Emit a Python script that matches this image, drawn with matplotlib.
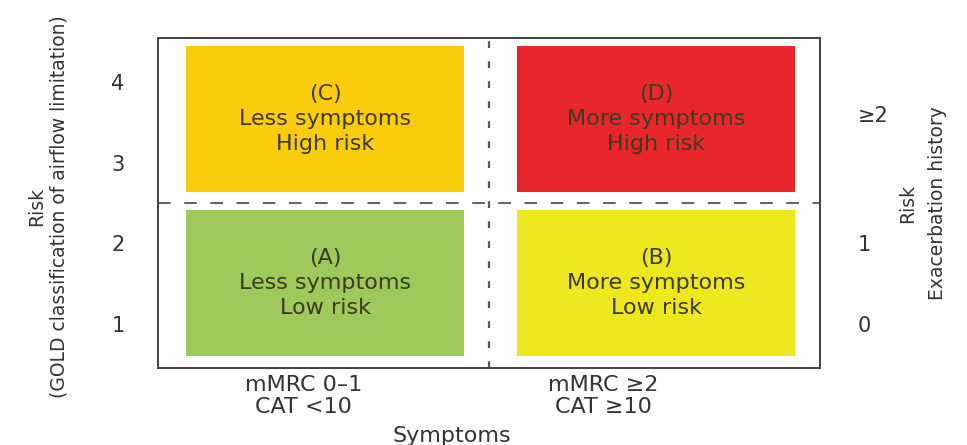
import matplotlib.pyplot as plt
from matplotlib.patches import Rectangle

# quadrants: label, x column, y row, colour
groups = ['(A)\nLess symptoms\nLow risk', '(B)\nMore symptoms\nLow risk',
          '(C)\nLess symptoms\nHigh risk', '(D)\nMore symptoms\nHigh risk']
group_x = [0, 1, 0, 1]
group_y = [0, 0, 1, 1]
group_colors = ['#9dca5a', '#efe71e', '#fbcc0c', '#e8262b']

gold_ticks = [1, 2, 3, 4]
exac_pos = [1, 2, 3.6]
exac_labels = ['0', '1', '\u22652']
sym_pos = [0.44, 1.345]
sym_labels = ['mMRC 0\u20131\nCAT <10', 'mMRC \u22652\nCAT \u226510']

plt.rcParams['font.family'] = ['DejaVu Sans']
txt = '#3b3a22'
lab_c = '#333333'
grey = '#555555'

fig = plt.figure(figsize=(9.67, 4.45), dpi=100)
ax = fig.add_axes([0.1634, 0.173, 0.6846, 0.7416])
ax.set_xlim(0, 2)
ax.set_ylim(0.45, 4.55)

for lab, gx, gy, c in zip(groups, group_x, group_y, group_colors):
    x0 = gx + 0.085
    y0 = 0.6 + gy * 2.04
    ax.add_patch(Rectangle((x0, y0), 0.84, 1.81, color=c, lw=0))
    ax.text(x0 + 0.42, y0 + 0.905, lab, ha='center', va='center',
            fontsize=16, color=txt, linespacing=1.3)

ax.axvline(1, color=grey, ls=(0, (3, 6)), lw=1.6)
ax.axhline(2.5, color=grey, ls=(0, (7, 7.5)), lw=1.3)

ax.set_xticks(sym_pos)
ax.set_xticklabels(sym_labels, fontsize=16, color=lab_c, linespacing=1.1)
ax.set_yticks(gold_ticks)
ax.set_yticklabels([str(t) for t in gold_ticks], fontsize=15, color=lab_c)
ax.tick_params(length=0, pad=24)
ax.tick_params(axis='x', pad=5)
ax.set_xlabel('Symptoms', fontsize=16, color=lab_c)
ax.xaxis.set_label_coords(0.444, -0.175)
ax.set_ylabel('Risk\n(GOLD classification of airflow limitation)',
              fontsize=13.5, color=lab_c, linespacing=1.25)
ax.yaxis.set_label_coords(-0.135, 0.49)

ax2 = ax.twinx()
ax2.set_ylim(ax.get_ylim())
ax2.set_yticks(exac_pos)
ax2.set_yticklabels(exac_labels, fontsize=15, color=lab_c)
ax2.tick_params(length=0, pad=27)
ax2.set_ylabel('Risk\nExacerbation history', fontsize=13.5, color=lab_c,
               rotation=90, linespacing=1.7)
ax2.yaxis.set_label_coords(1.118, 0.5)

for a in (ax, ax2):
    for s in a.spines.values():
        s.set_color('#444444')
        s.set_linewidth(1.3)

fig.savefig('out.png', dpi=100)
